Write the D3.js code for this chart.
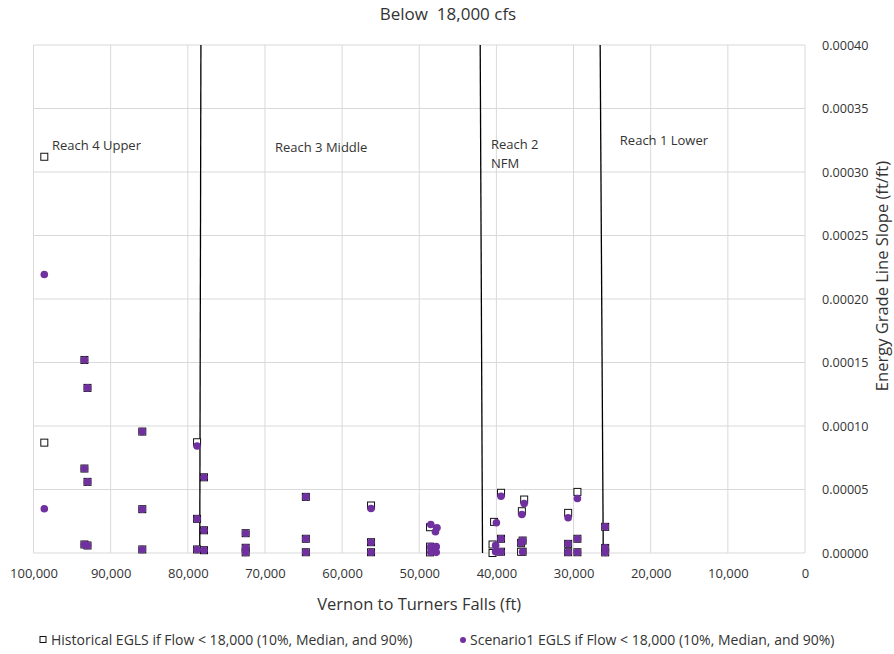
<!DOCTYPE html>
<html>
<head>
<meta charset="utf-8">
<script src="https://cdn.jsdelivr.net/npm/d3@7"></script>
<style>
  body { margin: 0; background: #fff; }
  text { font-family: "Open Sans", Lato, sans-serif; fill: #333; }
</style>
</head>
<body>
<div id="chart"></div>
<script>
// Historical EGLS (open squares)
var histX = [98600, 98600,
  93400, 93400, 93400, 93000, 93000, 93000, 85900, 85900, 85900,
  78800, 78800, 78800, 77900, 77900, 77900, 72500, 72500, 72500,
  64700, 64700, 64700, 56250, 56250, 56250, 48600, 48600, 48600,
  40300, 40500, 40500, 39400, 39400, 39400, 36400, 36600, 36600,
  36700, 36800, 36800, 30700, 30700, 30700, 29500, 29500, 29500,
  25900, 25900, 25900];
var histY = [0.000312, 0.0000869,
  0.000152, 0.0000665, 0.0000067, 0.00013, 0.000056, 0.0000059, 0.0000956, 0.0000345, 0.0000028,
  0.0000872, 0.0000269, 0.0000028, 0.0000596, 0.0000179, 0.0000022, 0.0000156, 0.0000041, 0.0000005,
  0.0000442, 0.0000112, 0.0000006, 0.0000374, 0.0000085, 0.0000006, 0.0000203, 0.000005, 0.0000005,
  0.0000245, 0.0000067, 0.0, 0.0000474, 0.0000112, 0.000001, 0.0000421, 0.0000098, 0.000001,
  0.0000329, 0.000008, 0.000001, 0.0000316, 0.0000072, 0.0000006, 0.0000481, 0.0000112, 0.0000006,
  0.0000206, 0.000004, 0.0000005];

// Scenario1 EGLS (purple dots)
var scenX = [98600, 98600,
  93400, 93400, 93400, 93000, 93000, 93000, 85900, 85900, 85900,
  78800, 78800, 78800, 77900, 77900, 77900, 72500, 72500, 72500,
  64700, 64700, 64700, 56250, 56250, 56250,
  48500, 47700, 47900, 48500, 47800, 48500, 47800,
  40000, 40100, 40100, 39400, 39400, 39400, 36400, 36600, 36600,
  36700, 36800, 30700, 30700, 30700, 29500, 29500, 29500,
  25900, 25900, 25900];
var scenY = [0.0002193, 0.0000348,
  0.000152, 0.0000665, 0.0000067, 0.00013, 0.000056, 0.0000059, 0.0000956, 0.0000345, 0.0000028,
  0.0000843, 0.0000269, 0.0000028, 0.0000596, 0.0000179, 0.0000022, 0.0000156, 0.0000041, 0.0000005,
  0.0000442, 0.0000112, 0.0000006, 0.000035, 0.0000085, 0.0000006,
  0.0000224, 0.0000198, 0.0000167, 0.000005, 0.000005, 0.0000005, 0.0000005,
  0.0000238, 0.0000061, 0.000001, 0.0000447, 0.0000112, 0.000001, 0.0000389, 0.0000098, 0.000001,
  0.0000303, 0.000008, 0.0000277, 0.0000072, 0.0000006, 0.0000429, 0.0000112, 0.0000006,
  0.0000206, 0.000004, 0.0000005];

// Reach boundary lines (distance at top and bottom of the plot)
var reachTop = [78300, 42100, 26550];
var reachBottom = [78450, 41800, 26150];

// Reach labels
var reachNames = ["Reach 4 Upper", "Reach 3 Middle", "Reach 2", "NFM", "Reach 1 Lower"];
var reachLabelX = [97600, 68700, 40700, 40700, 24000];
var reachLabelY = [0.000317, 0.000316, 0.000318, 0.000303, 0.000321];

var xTicks = [100000, 90000, 80000, 70000, 60000, 50000, 40000, 30000, 20000, 10000, 0];
var yTicks = [0, 0.00005, 0.0001, 0.00015, 0.0002, 0.00025, 0.0003, 0.00035, 0.0004];

var svgWidth = 894;
var svgHeight = 654;
var margin = { top: 45, right: 89, bottom: 101, left: 33.5 };
var width = svgWidth - margin.left - margin.right;
var height = svgHeight - margin.top - margin.bottom;

var svg = d3.select('#chart')
  .append('svg')
  .attr('width', svgWidth)
  .attr('height', svgHeight);

var chartGroup = svg.append('g')
  .attr('transform', `translate(${margin.left}, ${margin.top})`);

var xScale = d3.scaleLinear()
  .domain([100000, 0])
  .range([0, width]);

var yScale = d3.scaleLinear()
  .domain([0, 0.0004])
  .range([height, 0]);

// gridlines
chartGroup.append('g')
  .selectAll('line')
  .data(xTicks)
  .enter()
  .append('line')
  .attr('x1', d => xScale(d))
  .attr('x2', d => xScale(d))
  .attr('y1', 0)
  .attr('y2', height)
  .attr('stroke', '#d9d9d9')
  .attr('stroke-width', 1);

chartGroup.append('g')
  .selectAll('line')
  .data(yTicks)
  .enter()
  .append('line')
  .attr('x1', 0)
  .attr('x2', width)
  .attr('y1', d => yScale(d))
  .attr('y2', d => yScale(d))
  .attr('stroke', '#d9d9d9')
  .attr('stroke-width', 1);

// axes
var bottomAxis = d3.axisBottom(xScale)
  .tickValues(xTicks)
  .tickSize(0)
  .tickPadding(16)
  .tickFormat(d3.format(','));

var rightAxis = d3.axisRight(yScale)
  .tickValues(yTicks)
  .tickSize(0)
  .tickPadding(17)
  .tickFormat(d3.format('.5f'));

var xAxisG = chartGroup.append('g')
  .attr('transform', `translate(0, ${height})`)
  .call(bottomAxis);

var yAxisG = chartGroup.append('g')
  .attr('transform', `translate(${width}, 0)`)
  .call(rightAxis);

xAxisG.select('.domain').remove();
yAxisG.select('.domain').remove();
xAxisG.selectAll('text').attr('font-size', 13).attr('fill', '#333').attr('font-family', '"Open Sans", sans-serif');
yAxisG.selectAll('text').attr('font-size', 12.6).attr('fill', '#333').attr('font-family', '"Open Sans", sans-serif');

// reach boundary lines
chartGroup.append('g')
  .selectAll('line')
  .data(reachTop)
  .enter()
  .append('line')
  .attr('x1', d => xScale(d))
  .attr('y1', yScale(0.0004))
  .attr('x2', (d, i) => xScale(reachBottom[i]))
  .attr('y2', yScale(0))
  .attr('stroke', '#000')
  .attr('stroke-width', 1.3);

// reach labels
chartGroup.append('g')
  .selectAll('text')
  .data(reachNames)
  .enter()
  .append('text')
  .attr('x', (d, i) => xScale(reachLabelX[i]))
  .attr('y', (d, i) => yScale(reachLabelY[i]))
  .attr('font-size', 13)
  .attr('fill', '#222')
  .text(d => d);

// historical squares
var sq = 7;
chartGroup.append('g')
  .selectAll('rect')
  .data(histX)
  .enter()
  .append('rect')
  .attr('x', d => xScale(d) - sq / 2)
  .attr('y', (d, i) => yScale(histY[i]) - sq / 2)
  .attr('width', sq)
  .attr('height', sq)
  .attr('fill', '#fff')
  .attr('stroke', '#111')
  .attr('stroke-width', 1);

// scenario dots
chartGroup.append('g')
  .selectAll('circle')
  .data(scenX)
  .enter()
  .append('circle')
  .attr('cx', d => xScale(d))
  .attr('cy', (d, i) => yScale(scenY[i]))
  .attr('r', 3.8)
  .attr('fill', '#7030a0');

// title and axis labels
svg.append('text')
  .attr('x', 448)
  .attr('y', 20)
  .attr('text-anchor', 'middle')
  .attr('font-size', 17)
  .style('white-space', 'pre')
  .text('Below  18,000 cfs');

svg.append('text')
  .attr('x', margin.left + width / 2)
  .attr('y', 610)
  .attr('text-anchor', 'middle')
  .attr('font-size', 16.5)
  .text('Vernon to Turners Falls (ft)');

svg.append('text')
  .attr('transform', `translate(888, ${margin.top + height / 2 - 23}) rotate(-90)`)
  .attr('text-anchor', 'middle')
  .attr('font-size', 16.5)
  .text('Energy Grade Line Slope (ft/ft)');

// legend
var legend = svg.append('g')
  .attr('transform', 'translate(0, 640)');

legend.append('rect')
  .attr('x', 40)
  .attr('y', -3.5)
  .attr('width', 6)
  .attr('height', 6)
  .attr('fill', '#fff')
  .attr('stroke', '#111');

legend.append('text')
  .attr('x', 51)
  .attr('y', 4.5)
  .attr('font-size', 14)
  .text('Historical EGLS if Flow < 18,000 (10%, Median, and 90%)');

legend.append('circle')
  .attr('cx', 463)
  .attr('cy', 0)
  .attr('r', 3)
  .attr('fill', '#7030a0');

legend.append('text')
  .attr('x', 470)
  .attr('y', 4.5)
  .attr('font-size', 14)
  .text('Scenario1 EGLS if Flow < 18,000 (10%, Median, and 90%)');
</script>
</body>
</html>
